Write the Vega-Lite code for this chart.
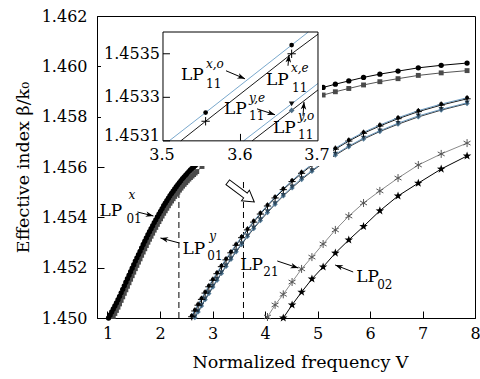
{
"$schema":"https://vega.github.io/schema/vega-lite/v6.json",
"width":378,"height":302,
"autosize":{"type":"none"},
"padding":{"left":97,"top":16,"right":5,"bottom":61},
"background":"white",
"config":{
 "view":{"stroke":"#000","strokeWidth":1},
 "axis":{"labelFont":"DejaVu Serif","labelFontSize":16,"labelColor":"#000","titleFont":"DejaVu Serif","titleFontSize":17.5,"titleFontWeight":"normal","titleColor":"#000","domainColor":"#000","tickColor":"#000","grid":false,"tickSize":-7,"zindex":1,"labelOverlap":false,"labelFlush":false},
 "text":{"font":"DejaVu Serif","color":"#000"}
},
"datasets":{
 "lp01":[
  {"V":1.02,"x":1.45000,"y":1.44970},{"V":1.05,"x":1.45012,"y":1.44982},{"V":1.08,"x":1.45024,"y":1.44994},{"V":1.11,"x":1.45036,"y":1.45006},{"V":1.14,"x":1.45048,"y":1.45018},{"V":1.17,"x":1.45060,"y":1.45030},{"V":1.20,"x":1.45073,"y":1.45043},{"V":1.23,"x":1.45086,"y":1.45056},{"V":1.26,"x":1.45100,"y":1.45070},{"V":1.29,"x":1.45114,"y":1.45084},{"V":1.32,"x":1.45128,"y":1.45098},{"V":1.35,"x":1.45142,"y":1.45112},{"V":1.38,"x":1.45156,"y":1.45126},{"V":1.41,"x":1.45170,"y":1.45140},{"V":1.44,"x":1.45184,"y":1.45154},{"V":1.47,"x":1.45198,"y":1.45168},{"V":1.50,"x":1.45212,"y":1.45182},{"V":1.53,"x":1.45226,"y":1.45196},{"V":1.56,"x":1.45239,"y":1.45209},{"V":1.59,"x":1.45252,"y":1.45222},{"V":1.62,"x":1.45265,"y":1.45235},{"V":1.65,"x":1.45279,"y":1.45249},{"V":1.68,"x":1.45292,"y":1.45262},{"V":1.71,"x":1.45305,"y":1.45275},{"V":1.74,"x":1.45318,"y":1.45288},{"V":1.77,"x":1.45331,"y":1.45301},{"V":1.80,"x":1.45343,"y":1.45313},{"V":1.83,"x":1.45355,"y":1.45325},{"V":1.86,"x":1.45367,"y":1.45337},{"V":1.89,"x":1.45379,"y":1.45349},{"V":1.92,"x":1.45390,"y":1.45360},{"V":1.95,"x":1.45402,"y":1.45372},{"V":1.98,"x":1.45413,"y":1.45383},{"V":2.01,"x":1.45424,"y":1.45394},{"V":2.04,"x":1.45435,"y":1.45405},{"V":2.07,"x":1.45446,"y":1.45416},{"V":2.10,"x":1.45456,"y":1.45426},{"V":2.13,"x":1.45466,"y":1.45436},{"V":2.16,"x":1.45476,"y":1.45446},{"V":2.19,"x":1.45486,"y":1.45456},{"V":2.22,"x":1.45495,"y":1.45465},{"V":2.25,"x":1.45504,"y":1.45474},{"V":2.28,"x":1.45513,"y":1.45483},{"V":2.31,"x":1.45522,"y":1.45492},{"V":2.34,"x":1.45530,"y":1.45500},{"V":2.37,"x":1.45538,"y":1.45508},{"V":2.40,"x":1.45546,"y":1.45516},{"V":2.43,"x":1.45554,"y":1.45524},{"V":2.46,"x":1.45561,"y":1.45531},{"V":2.49,"x":1.45568,"y":1.45538},{"V":2.52,"x":1.45575,"y":1.45545},{"V":2.55,"x":1.45582,"y":1.45552},{"V":2.58,"x":1.45588,"y":1.45558},{"V":2.61,"x":1.45594,"y":1.45564},{"V":2.64,"x":1.45600,"y":1.45570},{"V":2.67,"x":1.45606,"y":1.45576},{"V":2.70,"x":1.45612,"y":1.45582},{"V":2.80,"x":1.45632,"y":1.45602},{"V":3.00,"x":1.45670,"y":1.45640},{"V":3.20,"x":1.45705,"y":1.45675},{"V":3.50,"x":1.45752,"y":1.45722},{"V":3.80,"x":1.45792,"y":1.45762},{"V":4.10,"x":1.45828,"y":1.45798},{"V":4.40,"x":1.45858,"y":1.45828},{"V":4.70,"x":1.45886,"y":1.45856},{"V":4.894,"x":1.45903,"y":1.45873},{"V":5.107,"x":1.45916,"y":1.45886},{"V":5.340,"x":1.45929,"y":1.45899},{"V":5.596,"x":1.45942,"y":1.45912},{"V":5.877,"x":1.45956,"y":1.45926},{"V":6.188,"x":1.45969,"y":1.45939},{"V":6.534,"x":1.45981,"y":1.45951},{"V":6.920,"x":1.45994,"y":1.45964},{"V":7.356,"x":1.46004,"y":1.45974},{"V":7.849,"x":1.46013,"y":1.45983}
 ],
 "lp11":[
  {"V":2.605,"xo":1.45009,"xe":1.45005,"ye":1.44982,"yo":1.44979},{"V":2.664,"xo":1.45032,"xe":1.45028,"ye":1.45005,"yo":1.45002},{"V":2.726,"xo":1.45055,"xe":1.45051,"ye":1.45028,"yo":1.45024},{"V":2.791,"xo":1.45078,"xe":1.45074,"ye":1.45051,"yo":1.45048},{"V":2.860,"xo":1.45103,"xe":1.45099,"ye":1.45076,"yo":1.45073},{"V":2.931,"xo":1.45128,"xe":1.45124,"ye":1.45101,"yo":1.45097},{"V":3.007,"xo":1.45154,"xe":1.45150,"ye":1.45127,"yo":1.45123},{"V":3.086,"xo":1.45180,"xe":1.45176,"ye":1.45154,"yo":1.45150},{"V":3.170,"xo":1.45208,"xe":1.45204,"ye":1.45181,"yo":1.45177},{"V":3.258,"xo":1.45235,"xe":1.45231,"ye":1.45208,"yo":1.45205},{"V":3.351,"xo":1.45263,"xe":1.45259,"ye":1.45236,"yo":1.45233},{"V":3.450,"xo":1.45293,"xe":1.45289,"ye":1.45266,"yo":1.45263},{"V":3.555,"xo":1.45323,"xe":1.45319,"ye":1.45296,"yo":1.45292},{"V":3.666,"xo":1.45354,"xe":1.45350,"ye":1.45327,"yo":1.45324},{"V":3.785,"xo":1.45385,"xe":1.45381,"ye":1.45358,"yo":1.45355},{"V":3.912,"xo":1.45417,"xe":1.45413,"ye":1.45391,"yo":1.45387},{"V":4.047,"xo":1.45449,"xe":1.45445,"ye":1.45423,"yo":1.45419},{"V":4.192,"xo":1.45481,"xe":1.45477,"ye":1.45455,"yo":1.45452},{"V":4.348,"xo":1.45514,"xe":1.45510,"ye":1.45488,"yo":1.45485},{"V":4.516,"xo":1.45546,"xe":1.45542,"ye":1.45521,"yo":1.45517},{"V":4.697,"xo":1.45579,"xe":1.45575,"ye":1.45554,"yo":1.45550},{"V":4.894,"xo":1.45611,"xe":1.45607,"ye":1.45586,"yo":1.45583},{"V":5.107,"xo":1.45644,"xe":1.45640,"ye":1.45620,"yo":1.45616},{"V":5.340,"xo":1.45675,"xe":1.45671,"ye":1.45651,"yo":1.45647},{"V":5.596,"xo":1.45707,"xe":1.45703,"ye":1.45683,"yo":1.45680},{"V":5.877,"xo":1.45738,"xe":1.45734,"ye":1.45715,"yo":1.45711},{"V":6.188,"xo":1.45767,"xe":1.45763,"ye":1.45744,"yo":1.45741},{"V":6.534,"xo":1.45796,"xe":1.45792,"ye":1.45774,"yo":1.45770},{"V":6.920,"xo":1.45824,"xe":1.45820,"ye":1.45803,"yo":1.45799},{"V":7.356,"xo":1.45850,"xe":1.45846,"ye":1.45829,"yo":1.45826},{"V":7.849,"xo":1.45875,"xe":1.45871,"ye":1.45855,"yo":1.45852}
 ],
 "lp21":[{"V":4.047,"n":1.45004},{"V":4.192,"n":1.45052},{"V":4.348,"n":1.45094},{"V":4.516,"n":1.45143},{"V":4.697,"n":1.45195},{"V":4.894,"n":1.45242},{"V":5.107,"n":1.45294},{"V":5.340,"n":1.45350},{"V":5.596,"n":1.45405},{"V":5.877,"n":1.45457},{"V":6.188,"n":1.45505},{"V":6.534,"n":1.45556},{"V":6.920,"n":1.45608},{"V":7.356,"n":1.45652},{"V":7.849,"n":1.45695}],
 "lp02":[{"V":4.348,"n":1.45000},{"V":4.516,"n":1.45052},{"V":4.697,"n":1.45103},{"V":4.894,"n":1.45155},{"V":5.107,"n":1.45203},{"V":5.340,"n":1.45258},{"V":5.596,"n":1.45310},{"V":5.877,"n":1.45364},{"V":6.188,"n":1.45426},{"V":6.534,"n":1.45485},{"V":6.920,"n":1.45536},{"V":7.356,"n":1.45592},{"V":7.849,"n":1.45644}],
 "dash":[{"V":2.36,"n":1.45,"n2":1.45545},{"V":3.59,"n":1.45,"n2":1.45556}],
 "lpM":[{"V":0.848,"n":1.454053,"t":"LP"},{"V":2.4267,"n":1.452543,"t":"LP"},{"V":3.53,"n":1.451907,"t":"LP"},{"V":5.7366,"n":1.45143,"t":"LP"}],
 "subM":[{"V":1.3614,"n":1.453775,"t":"01"},{"V":2.9022,"n":1.452305,"t":"01"},{"V":3.9675,"n":1.451669,"t":"21"},{"V":6.136,"n":1.451152,"t":"02"}],
 "supM":[{"V":1.3994,"n":1.454728,"t":"x"},{"V":2.9403,"n":1.453099,"t":"y"}],
 "arrM":[{"V":1.5707,"n":1.454212,"V2":1.875,"n2":1.454053},{"V":2.3696,"n":1.45298,"V2":2.0082,"n2":1.453179},{"V":4.2338,"n":1.452265,"V2":4.6333,"n2":1.451987},{"V":5.6796,"n":1.451828,"V2":5.3372,"n2":1.452106}],
 "iwhite":[{"V":3.42,"V2":3.70516,"n":1.4530954,"n2":1.453611},{"V":3.42,"V2":3.71935,"n":1.452985,"n2":1.4531}],
 "ilines":[
  {"s":"xo","V":3.508,"n":1.4531},{"s":"xo","V":3.555,"n":1.45323},{"s":"xo","V":3.666,"n":1.45354},{"s":"xo","V":3.6875,"n":1.4536},
  {"s":"xe","V":3.523,"n":1.4531},{"s":"xe","V":3.555,"n":1.45319},{"s":"xe","V":3.666,"n":1.4535},{"s":"xe","V":3.7,"n":1.45359},
  {"s":"ye","V":3.604,"n":1.4531},{"s":"ye","V":3.666,"n":1.45327},{"s":"ye","V":3.7,"n":1.453364},
  {"s":"yo","V":3.615,"n":1.4531},{"s":"yo","V":3.666,"n":1.45324},{"s":"yo","V":3.7,"n":1.453334}
 ],
 "ipts":[{"s":"xo","V":3.555,"n":1.45323},{"s":"xo","V":3.666,"n":1.45354},{"s":"xe","V":3.555,"n":1.45319},{"s":"xe","V":3.666,"n":1.4535},{"s":"ye","V":3.666,"n":1.45327},{"s":"yo","V":3.666,"n":1.45324}],
 "iticks":[{"V":3.5,"V2":3.509,"n":1.4531,"n2":1.4531},{"V":3.5,"V2":3.509,"n":1.4533,"n2":1.4533},{"V":3.5,"V2":3.509,"n":1.4535,"n2":1.4535},{"V":3.6,"V2":3.6,"n":1.4531,"n2":1.453132}],
 "ilabY":[{"V":3.49613,"n":1.4535,"t":"1.4535"},{"V":3.49613,"n":1.4533,"t":"1.4533"},{"V":3.49613,"n":1.45312,"t":"1.4531"}],
 "ilabX":[{"V":3.4987,"n":1.453036,"t":"3.5"},{"V":3.5994,"n":1.453036,"t":"3.6"},{"V":3.6987,"n":1.453036,"t":"3.7"}],
 "lpI":[{"V":3.52323,"n":1.45338,"t":"LP"},{"V":3.6329,"n":1.453357,"t":"LP"},{"V":3.57871,"n":1.453224,"t":"LP"},{"V":3.64194,"n":1.453137,"t":"LP"}],
 "subI":[{"V":3.55548,"n":1.453344,"t":"11"},{"V":3.66645,"n":1.453325,"t":"11"},{"V":3.61097,"n":1.453197,"t":"11"},{"V":3.67419,"n":1.453109,"t":"11"}],
 "supI":[{"V":3.55548,"n":1.453436,"t":"x,o"},{"V":3.66516,"n":1.453417,"t":"x,e"},{"V":3.61097,"n":1.453279,"t":"y,e"},{"V":3.67419,"n":1.453197,"t":"y,o"}],
 "arrI":[{"V":3.58129,"n":1.453422,"V2":3.60581,"n2":1.453385},{"V":3.66129,"n":1.453445,"V2":3.66258,"n2":1.453495},{"V":3.62129,"n":1.453247,"V2":3.64452,"n2":1.45322},{"V":3.68065,"n":1.453215,"V2":3.68194,"n2":1.453279}]
},
"layer":[
 {
  "encoding":{
   "x":{"field":"V","type":"quantitative","scale":{"domain":[0.8,8],"nice":false,"zero":false},"axis":{"values":[1,2,3,4,5,6,7,8],"format":"d","labelPadding":14,"titlePadding":12,"titleX":203,"title":"Normalized frequency V"}},
   "y":{"field":"n","type":"quantitative","scale":{"domain":[1.45,1.462],"nice":false,"zero":false},"axis":{"values":[1.45,1.452,1.454,1.456,1.458,1.46,1.462],"format":".3f","labelPadding":17,"titlePadding":9,"title":"Effective index β/k₀"}}
  },
  "layer":[
   {"data":{"name":"dash"},"mark":{"type":"rule","color":"#000","strokeWidth":1,"strokeDash":[6,4]},"encoding":{"y2":{"field":"n2"}}},
   {"data":{"name":"lp21"},"mark":{"type":"line","color":"#8a8a8a","strokeWidth":1,"point":{"shape":"M0,-1L0,1M-0.87,-0.5L0.87,0.5M-0.87,0.5L0.87,-0.5","filled":false,"size":64,"color":"#555","strokeWidth":1,"opacity":1}}},
   {"data":{"name":"lp02"},"mark":{"type":"line","color":"#000","strokeWidth":1,"point":{"shape":"M0,-1L0.235,-0.324L0.951,-0.309L0.38,0.124L0.588,0.809L0,0.4L-0.588,0.809L-0.38,0.124L-0.951,-0.309L-0.235,-0.324Z","filled":true,"size":80,"color":"#000","opacity":1}}},
   {"data":{"name":"lp11"},"transform":[{"fold":["yo"],"as":["s","n"]},{"filter":"datum.n>=1.44998"}],"mark":{"type":"line","color":"#222","strokeWidth":0.9,"point":{"shape":"diamond","filled":true,"size":28,"color":"#557a95","opacity":1}}},
   {"data":{"name":"lp11"},"transform":[{"fold":["ye"],"as":["s","n"]},{"filter":"datum.n>=1.44998"}],"mark":{"type":"line","color":"#5b8db5","strokeWidth":0.9,"point":{"shape":"triangle-down","filled":true,"size":28,"color":"#2d475c","opacity":1}}},
   {"data":{"name":"lp11"},"transform":[{"fold":["xe"],"as":["s","n"]},{"filter":"datum.n>=1.44998"}],"mark":{"type":"line","color":"#000","strokeWidth":0.9,"point":{"shape":"M-1,0L1,0M0,-1L0,1","filled":false,"size":52,"color":"#000","strokeWidth":1,"opacity":1}}},
   {"data":{"name":"lp11"},"transform":[{"fold":["xo"],"as":["s","n"]},{"filter":"datum.n>=1.44998"}],"mark":{"type":"line","color":"#5b8db5","strokeWidth":0.9,"point":{"shape":"circle","filled":true,"size":16,"color":"#000","opacity":1}}},
   {"data":{"name":"lp01"},"transform":[{"fold":["y"],"as":["s","n"]},{"filter":"datum.n>=1.44998"}],"mark":{"type":"line","color":"#555","strokeWidth":1,"point":{"shape":"square","filled":true,"size":24,"color":"#4a4a4a","opacity":1}}},
   {"data":{"name":"lp01"},"transform":[{"fold":["x"],"as":["s","n"]},{"filter":"datum.n>=1.44998"}],"mark":{"type":"line","color":"#000","strokeWidth":1,"point":{"shape":"circle","filled":true,"size":28,"color":"#000","opacity":1}}},
   {"data":{"name":"arrM"},"mark":{"type":"rule","color":"#000","strokeWidth":1},"encoding":{"x2":{"field":"V2"},"y2":{"field":"n2"}}},
   {"data":{"values":[{"V":1.875,"n":1.454053}]},"mark":{"type":"point","shape":"M0,0L-2.2,-0.8L-1.6,0L-2.2,0.8Z","filled":true,"color":"#000","size":49,"angle":14,"opacity":1}},
   {"data":{"values":[{"V":2.0082,"n":1.453179}]},"mark":{"type":"point","shape":"M0,0L-2.2,-0.8L-1.6,0L-2.2,0.8Z","filled":true,"color":"#000","size":49,"angle":194,"opacity":1}},
   {"data":{"values":[{"V":4.6333,"n":1.451987}]},"mark":{"type":"point","shape":"M0,0L-2.2,-0.8L-1.6,0L-2.2,0.8Z","filled":true,"color":"#000","size":49,"angle":18,"opacity":1}},
   {"data":{"values":[{"V":5.3372,"n":1.452106}]},"mark":{"type":"point","shape":"M0,0L-2.2,-0.8L-1.6,0L-2.2,0.8Z","filled":true,"color":"#000","size":49,"angle":201,"opacity":1}},
   {"data":{"values":[{"V":3.283,"n":1.455404,"V2":3.629,"n2":1.454868}]},"mark":{"type":"rule","color":"#000","strokeWidth":7,"strokeCap":"butt"},"encoding":{"x2":{"field":"V2"},"y2":{"field":"n2"}}},
   {"data":{"values":[{"V":3.796,"n":1.45461}]},"mark":{"type":"point","shape":"M0,0L-2,-1.2L-2,1.2Z","filled":true,"fill":"#fff","stroke":"#000","strokeWidth":1,"size":121,"angle":36.5,"opacity":1}},
   {"data":{"values":[{"V":3.298,"n":1.45538,"V2":3.659,"n2":1.45482}]},"mark":{"type":"rule","color":"#fff","strokeWidth":5,"strokeCap":"butt"},"encoding":{"x2":{"field":"V2"},"y2":{"field":"n2"}}},
   {"data":{"name":"lpM"},"mark":{"type":"text","fontSize":17,"align":"left","baseline":"alphabetic"},"encoding":{"text":{"field":"t"}}},
   {"data":{"name":"subM"},"mark":{"type":"text","fontSize":12,"align":"left","baseline":"alphabetic"},"encoding":{"text":{"field":"t"}}},
   {"data":{"name":"supM"},"mark":{"type":"text","fontSize":12,"fontStyle":"italic","align":"left","baseline":"alphabetic"},"encoding":{"text":{"field":"t"}}}
  ]
 },
 {
  "encoding":{
   "x":{"field":"V","type":"quantitative","scale":{"domain":[3.41484,3.90258],"nice":false,"zero":false},"axis":null},
   "y":{"field":"n","type":"quantitative","scale":{"domain":[1.45228621,1.45367356],"nice":false,"zero":false},"axis":null}
  },
  "layer":[
   {"data":{"name":"iwhite"},"mark":{"type":"rect","fill":"#fff","strokeWidth":0},"encoding":{"x2":{"field":"V2"},"y2":{"field":"n2"}}},
   {"data":{"name":"ilines"},"transform":[{"filter":"datum.s==='xo'||datum.s==='ye'"}],"mark":{"type":"line","color":"#6a9ec6","strokeWidth":0.9},"encoding":{"detail":{"field":"s"}}},
   {"data":{"name":"ilines"},"transform":[{"filter":"datum.s==='xe'||datum.s==='yo'"}],"mark":{"type":"line","color":"#000","strokeWidth":0.9},"encoding":{"detail":{"field":"s"}}},
   {"data":{"name":"ipts"},"transform":[{"filter":"datum.s==='xo'"}],"mark":{"type":"point","shape":"circle","filled":true,"size":22,"color":"#000","opacity":1}},
   {"data":{"name":"ipts"},"transform":[{"filter":"datum.s==='xe'"}],"mark":{"type":"point","shape":"M-1,0L1,0M0,-1L0,1","filled":false,"size":70,"color":"#000","strokeWidth":1,"opacity":1}},
   {"data":{"name":"ipts"},"transform":[{"filter":"datum.s==='ye'"}],"mark":{"type":"point","shape":"triangle-down","filled":true,"size":32,"color":"#111","opacity":1}},
   {"data":{"name":"ipts"},"transform":[{"filter":"datum.s==='yo'"}],"mark":{"type":"point","shape":"diamond","filled":true,"size":32,"color":"#4e6e86","opacity":1}},
   {"data":{"values":[{"V":3.5,"V2":3.7,"n":1.4531,"n2":1.4536}]},"mark":{"type":"rect","fillOpacity":0,"stroke":"#000","strokeWidth":1},"encoding":{"x2":{"field":"V2"},"y2":{"field":"n2"}}},
   {"data":{"name":"iticks"},"mark":{"type":"rule","color":"#000","strokeWidth":1},"encoding":{"x2":{"field":"V2"},"y2":{"field":"n2"}}},
   {"data":{"name":"ilabY"},"mark":{"type":"text","fontSize":16,"align":"right","baseline":"middle"},"encoding":{"text":{"field":"t"}}},
   {"data":{"name":"ilabX"},"mark":{"type":"text","fontSize":16,"align":"center","baseline":"middle"},"encoding":{"text":{"field":"t"}}},
   {"data":{"name":"arrI"},"mark":{"type":"rule","color":"#000","strokeWidth":1},"encoding":{"x2":{"field":"V2"},"y2":{"field":"n2"}}},
   {"data":{"values":[{"V":3.60581,"n":1.453385}]},"mark":{"type":"point","shape":"M0,0L-2.2,-0.8L-1.6,0L-2.2,0.8Z","filled":true,"color":"#000","size":49,"angle":22.8,"opacity":1}},
   {"data":{"values":[{"V":3.66258,"n":1.453495}]},"mark":{"type":"point","shape":"M0,0L-2.2,-0.8L-1.6,0L-2.2,0.8Z","filled":true,"color":"#000","size":49,"angle":-84.8,"opacity":1}},
   {"data":{"values":[{"V":3.64452,"n":1.45322}]},"mark":{"type":"point","shape":"M0,0L-2.2,-0.8L-1.6,0L-2.2,0.8Z","filled":true,"color":"#000","size":49,"angle":18.4,"opacity":1}},
   {"data":{"values":[{"V":3.68194,"n":1.453279}]},"mark":{"type":"point","shape":"M0,0L-2.2,-0.8L-1.6,0L-2.2,0.8Z","filled":true,"color":"#000","size":49,"angle":-85.9,"opacity":1}},
   {"data":{"name":"lpI"},"mark":{"type":"text","fontSize":17,"align":"left","baseline":"alphabetic"},"encoding":{"text":{"field":"t"}}},
   {"data":{"name":"subI"},"mark":{"type":"text","fontSize":12,"align":"left","baseline":"alphabetic"},"encoding":{"text":{"field":"t"}}},
   {"data":{"name":"supI"},"mark":{"type":"text","fontSize":12,"fontStyle":"italic","align":"left","baseline":"alphabetic"},"encoding":{"text":{"field":"t"}}}
  ]
 }
],
"resolve":{"scale":{"x":"independent","y":"independent"}}
}
